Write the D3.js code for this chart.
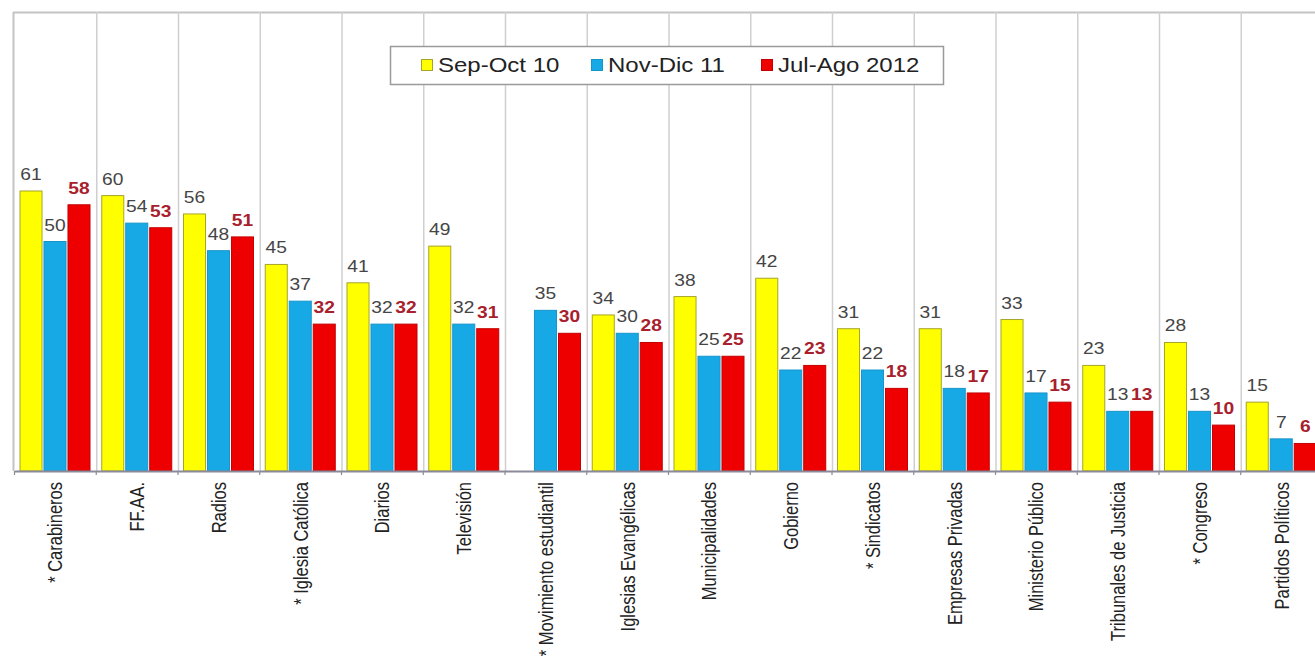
<!DOCTYPE html>
<html>
<head>
<meta charset="utf-8">
<script src="https://cdn.jsdelivr.net/npm/d3@7"></script>
<style>
  html, body { margin: 0; padding: 0; background: #fff; }
  svg { display: block; font-family: "Liberation Sans", Arial, sans-serif; }
</style>
</head>
<body>
<svg id="chart" width="1315" height="662"></svg>
<script>
// Confidence in institutions, three survey waves
const categories = [
  "* Carabineros", "FF.AA.", "Radios", "* Iglesia Católica", "Diarios", "Televisión",
  "* Movimiento estudiantil", "Iglesias Evangélicas", "Municipalidades", "Gobierno",
  "* Sindicatos", "Empresas Privadas", "Ministerio Público", "Tribunales de Justicia",
  "* Congreso", "Partidos Políticos"
];
const seriesNames = ["Sep-Oct 10", "Nov-Dic 11", "Jul-Ago 2012"];
const sepOct10  = [61, 60, 56, 45, 41, 49, null, 34, 38, 42, 31, 31, 33, 23, 28, 15];
const novDic11  = [50, 54, 48, 37, 32, 32, 35, 30, 25, 22, 22, 18, 17, 13, 13, 7];
const julAgo12  = [58, 53, 51, 32, 32, 31, 30, 28, 25, 23, 18, 17, 15, 13, 10, 6];
const seriesValues = [sepOct10, novDic11, julAgo12];

const fills   = ["#ffff00", "#16a9e6", "#ee0000"];
const strokes = ["#a5a52a", "#1795c9", "#c40000"];
const labelColors  = ["#454545", "#454545", "#a8202c"];
const labelWeights = ["normal", "normal", "bold"];
const stretch = 1.2; // horizontal stretch applied to all text

const svg = d3.select("#chart");

const x = d3.scaleBand().domain(categories).range([14.5, 14.5 + 16 * 81.75]).padding(0);
const xs = d3.scaleBand().domain(d3.range(3)).range([5, 76]).paddingInner(0.04);
const y = d3.scaleLinear().domain([0, 100]).range([471, 12]);

// plot frame: left and top borders
svg.append("line").attr("x1", 13.5).attr("x2", 13.5).attr("y1", 12).attr("y2", 471)
  .attr("stroke", "#c4c4c4").attr("stroke-width", 2);
svg.append("line").attr("x1", 13).attr("x2", 1315).attr("y1", 12.5).attr("y2", 12.5)
  .attr("stroke", "#c4c4c4").attr("stroke-width", 2);

// vertical separators between categories
svg.append("g").selectAll("line")
  .data(categories.slice(1))
  .join("line")
  .attr("x1", d => x(d) + 0.5).attr("x2", d => x(d) + 0.5)
  .attr("y1", 12).attr("y2", 471)
  .attr("stroke", "#cfcfcf").attr("stroke-width", 1.5);

// bars
const groups = svg.append("g").selectAll("g")
  .data(categories)
  .join("g")
  .attr("transform", d => `translate(${x(d)},0)`);

groups.each(function(cat, ci) {
  const g = d3.select(this);
  seriesValues.forEach((vals, si) => {
    const v = vals[ci];
    if (v == null) return;
    g.append("rect")
      .attr("x", xs(si) + 0.5)
      .attr("y", y(v))
      .attr("width", xs.bandwidth() - 1)
      .attr("height", y(0) - y(v))
      .attr("fill", fills[si])
      .attr("stroke", strokes[si])
      .attr("stroke-width", 1);
    g.append("text")
      .attr("transform", `translate(${xs(si) + xs.bandwidth() / 2},${y(v) - 11}) scale(${stretch},1)`)
      .attr("text-anchor", "middle")
      .attr("font-size", 16)
      .attr("font-weight", labelWeights[si])
      .attr("fill", labelColors[si])
      .text(v);
  });
});

// category axis
const xAxis = svg.append("g").attr("transform", `translate(0,${y(0)})`)
  .call(d3.axisBottom(x).tickSize(0).tickFormat(""));
xAxis.select(".domain").attr("stroke", "#8a8a9a").attr("stroke-width", 2);
xAxis.selectAll(".tick").remove();
xAxis.selectAll(".sep")
  .data(categories)
  .join("line")
  .attr("x1", d => x(d)).attr("x2", d => x(d))
  .attr("y1", 0).attr("y2", 4)
  .attr("stroke", "#8a8a9a").attr("stroke-width", 1.2);

svg.append("g").selectAll("text")
  .data(categories)
  .join("text")
  .attr("transform", d => `translate(${x(d) + x.bandwidth() / 2},482) scale(${stretch},1) rotate(-90)`)
  .attr("text-anchor", "end")
  .attr("dy", "0.35em")
  .attr("font-size", 16.5)
  .attr("fill", "#222")
  .text(d => d);

// legend
const legend = svg.append("g");
legend.append("rect")
  .attr("x", 390.5).attr("y", 46.5).attr("width", 553).attr("height", 38)
  .attr("fill", "#fff").attr("stroke", "#9a9a9a").attr("stroke-width", 1.5);
const legendX = [421, 591, 761];
seriesNames.forEach((name, i) => {
  legend.append("rect")
    .attr("x", legendX[i] + 0.5).attr("y", 59.5).attr("width", 11).attr("height", 11)
    .attr("fill", fills[i]).attr("stroke", strokes[i]).attr("stroke-width", 1);
  legend.append("text")
    .attr("transform", `translate(${legendX[i] + 17},72) scale(${stretch},1)`)
    .attr("font-size", 20)
    .attr("fill", "#222")
    .text(name);
});
</script>
</body>
</html>
